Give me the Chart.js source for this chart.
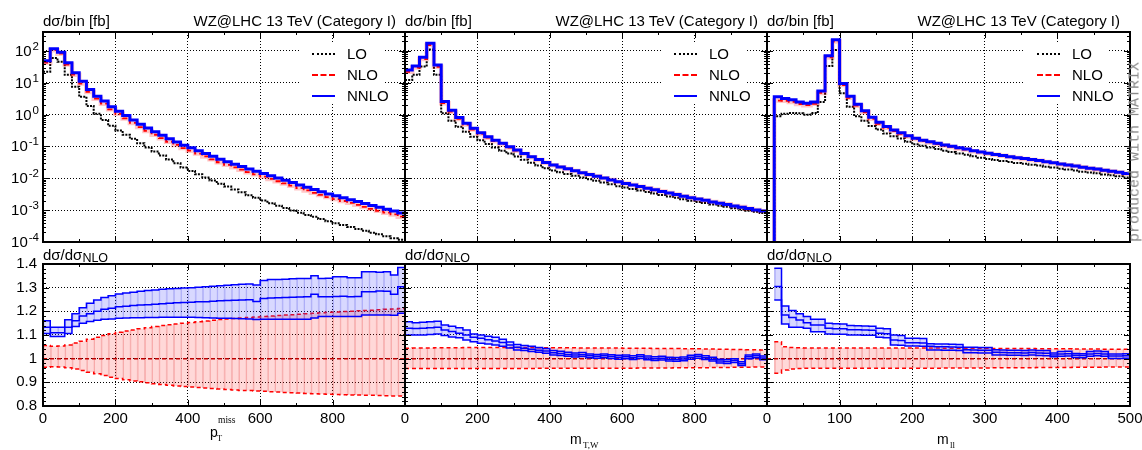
<!DOCTYPE html>
<html>
<head>
<meta charset="utf-8">
<script src="https://cdn.jsdelivr.net/npm/chart.js@4.4.0/dist/chart.umd.min.js"></script>
<style>
  body { margin: 0; background: #fff; }
  #page { position: relative; width: 1142px; height: 450px; overflow: hidden; font-family: "Liberation Sans", Arial, sans-serif; color: #000; }
  #page canvas { position: absolute; z-index: 1; }
  .txt { position: absolute; z-index: 3; font-size: 15px; line-height: 15px; white-space: nowrap; }
  .txt sub { font-size: 12.5px; vertical-align: -2px; line-height: 0; }
  .xl { position: absolute; z-index: 3; font-size: 14px; line-height: 14px; white-space: nowrap; }
  .xs { position: absolute; z-index: 3; font-family: "Liberation Serif", serif; line-height: 1; white-space: nowrap; }
  .key { position: absolute; z-index: 2; background: #fff; }
  .smp { position: absolute; z-index: 3; width: 23px; height: 0; }
  .klab { position: absolute; z-index: 3; font-size: 15px; line-height: 15px; }
  #matrix { position: absolute; z-index: 3; left: 1135px; top: 152px; transform: translate(-50%, -50%) rotate(-90deg);
            font: 15px "Liberation Mono", monospace; color: #8a8a8a; white-space: nowrap; }
</style>
</head>
<body>
<div id="page">
  <div class="txt" style="left:43px;top:13px">dσ/bin [fb]</div>
  <div class="txt" style="right:746px;top:13px">WZ@LHC 13 TeV (Category I)</div>
  <div class="txt" style="left:405px;top:13px">dσ/bin [fb]</div>
  <div class="txt" style="right:384px;top:13px">WZ@LHC 13 TeV (Category I)</div>
  <div class="txt" style="left:767px;top:13px">dσ/bin [fb]</div>
  <div class="txt" style="right:22px;top:13px">WZ@LHC 13 TeV (Category I)</div>

  <div class="txt" style="left:43px;top:246.5px">dσ/dσ<sub>NLO</sub></div>
  <div class="txt" style="left:405px;top:246.5px">dσ/dσ<sub>NLO</sub></div>
  <div class="txt" style="left:767px;top:246.5px">dσ/dσ<sub>NLO</sub></div>

  <div class="xl" style="left:210px;top:425px">p</div>
  <div class="xs" style="left:218px;top:416px;font-size:9.5px">miss</div>
  <div class="xs" style="left:217px;top:434px;font-size:8.5px">T</div>
  <div class="xl" style="left:570px;top:432px">m</div>
  <div class="xs" style="left:583px;top:441px;font-size:9px">T,W</div>
  <div class="xl" style="left:937px;top:432px">m</div>
  <div class="xs" style="left:950px;top:441px;font-size:9px">ll</div>

  <div id="matrix">produced with MATRIX</div>
</div>
<script>
// bin edges (GeV)
const ptEdges = Array.from({ length: 51 }, (_, i) => i * 20);
const mtEdges = Array.from({ length: 51 }, (_, i) => i * 20);
const mllEdges = Array.from({ length: 51 }, (_, i) => i * 10);

// tick labels
const ptTicks = [0, 200, 400, 600, 800, 1000];
const mtTicks = [0, 200, 400, 600, 800, 1000];
const mllTicks = [0, 100, 200, 300, 400, 500];
const logTicks = [1e-4, 1e-3, 1e-2, 1e-1, 1, 10, 100];
const ratioTicks = [0.8, 0.9, 1.0, 1.1, 1.2, 1.3, 1.4];
const seriesNames = ['LO', 'NLO', 'NNLO'];

// ---- p_T^miss ----
const ptLo = [22.4, 60.3, 45.7, 17.8, 7.59, 3.63, 1.86, 1.07, 0.676, 0.447,
  0.316, 0.234, 0.174, 0.126, 0.0933, 0.0692, 0.0525, 0.0389, 0.0295, 0.0219,
  0.0170, 0.0135, 0.0107, 0.00851, 0.00676, 0.00550, 0.00447, 0.00363, 0.00295, 0.00245,
  0.00200, 0.00166, 0.00138, 0.00117, 0.000977, 0.000832, 0.000708, 0.000617, 0.000525, 0.000447,
  0.000389, 0.000339, 0.000295, 0.000257, 0.000224, 0.000195, 0.000174, 0.000151, 0.000132, 0.000117];
const ptNlo = [43.2, 105.9, 82.2, 37.7, 18.0, 9.49, 5.18, 3.17, 2.22, 1.47,
  1.06, 0.763, 0.552, 0.408, 0.309, 0.234, 0.182, 0.141, 0.112, 0.0889,
  0.0737, 0.0598, 0.0486, 0.0394, 0.0320, 0.0266, 0.0221, 0.01875, 0.01561, 0.01337,
  0.01124, 0.00955, 0.00811, 0.00692, 0.00588, 0.00489, 0.00416, 0.00351, 0.00301, 0.00257,
  0.00223, 0.00194, 0.00170, 0.00147, 0.00126, 0.00110, 0.000956, 0.000833, 0.000733, 0.000623];
const ptNnlo = [49, 117.5, 91.2, 42.7, 20.9, 11.2, 6.17, 3.80, 2.69, 1.78,
  1.29, 0.933, 0.676, 0.501, 0.380, 0.288, 0.224, 0.174, 0.138, 0.110,
  0.0912, 0.0741, 0.0603, 0.0490, 0.0398, 0.0331, 0.0275, 0.0234, 0.0195, 0.0166,
  0.0141, 0.0120, 0.0102, 0.00871, 0.00741, 0.00617, 0.00525, 0.00447, 0.00380, 0.00324,
  0.00282, 0.00245, 0.00214, 0.00186, 0.00162, 0.00141, 0.00123, 0.00107, 0.000933, 0.000813];
const ptNloUp = [1.056, 1.052, 1.053, 1.058, 1.066, 1.074, 1.082, 1.090, 1.098, 1.105,
  1.112, 1.117, 1.121, 1.126, 1.131, 1.136, 1.140, 1.143, 1.147, 1.150,
  1.153, 1.156, 1.159, 1.162, 1.165, 1.168, 1.170, 1.172, 1.174, 1.176,
  1.178, 1.180, 1.182, 1.184, 1.186, 1.188, 1.190, 1.192, 1.194, 1.196,
  1.197, 1.199, 1.200, 1.202, 1.204, 1.205, 1.207, 1.209, 1.210, 1.212];
const ptNloDown = [0.964, 0.966, 0.965, 0.962, 0.956, 0.950, 0.943, 0.936, 0.929, 0.922,
  0.916, 0.911, 0.906, 0.902, 0.898, 0.894, 0.891, 0.888, 0.885, 0.882,
  0.880, 0.878, 0.876, 0.874, 0.872, 0.870, 0.868, 0.866, 0.865, 0.863,
  0.862, 0.860, 0.859, 0.857, 0.856, 0.855, 0.853, 0.852, 0.851, 0.850,
  0.849, 0.848, 0.847, 0.846, 0.845, 0.845, 0.844, 0.843, 0.842, 0.842];
const ptRatio = [1.133, 1.110, 1.110, 1.133, 1.160, 1.180, 1.190, 1.200, 1.209, 1.213,
  1.219, 1.222, 1.225, 1.227, 1.228, 1.230, 1.232, 1.234, 1.236, 1.237,
  1.238, 1.240, 1.241, 1.243, 1.245, 1.246, 1.247, 1.248, 1.249, 1.242,
  1.254, 1.256, 1.257, 1.258, 1.260, 1.261, 1.262, 1.272, 1.262, 1.262,
  1.263, 1.264, 1.262, 1.263, 1.283, 1.283, 1.286, 1.285, 1.272, 1.304];
const ptRatioUp = [1.160, 1.133, 1.133, 1.164, 1.190, 1.215, 1.234, 1.248, 1.258, 1.266,
  1.273, 1.277, 1.281, 1.285, 1.288, 1.290, 1.293, 1.295, 1.297, 1.299,
  1.300, 1.302, 1.304, 1.306, 1.308, 1.310, 1.312, 1.314, 1.316, 1.311,
  1.330, 1.335, 1.335, 1.336, 1.338, 1.339, 1.339, 1.350, 1.339, 1.340,
  1.346, 1.346, 1.342, 1.342, 1.367, 1.367, 1.365, 1.367, 1.353, 1.385];
const ptRatioDown = [1.106, 1.094, 1.094, 1.106, 1.136, 1.150, 1.157, 1.162, 1.167, 1.168,
  1.171, 1.172, 1.173, 1.173, 1.174, 1.174, 1.175, 1.175, 1.175, 1.175,
  1.175, 1.174, 1.173, 1.172, 1.171, 1.171, 1.170, 1.169, 1.168, 1.165,
  1.167, 1.167, 1.167, 1.167, 1.167, 1.167, 1.167, 1.172, 1.178, 1.178,
  1.178, 1.178, 1.178, 1.178, 1.185, 1.185, 1.185, 1.185, 1.183, 1.192];

// ---- m_T,W ----
const mtLo = [12.3, 17.8, 32.4, 112, 17.8, 1.10, 0.646, 0.417, 0.288, 0.204,
  0.158, 0.120, 0.0933, 0.0741, 0.0603, 0.0485, 0.0382, 0.0308, 0.0254, 0.0209,
  0.0176, 0.0155, 0.0136, 0.0120, 0.0106, 0.00931, 0.00838, 0.00736, 0.00647, 0.00569,
  0.00512, 0.00460, 0.00414, 0.00372, 0.00335, 0.00301, 0.00271, 0.00244, 0.00219, 0.00197,
  0.00182, 0.00167, 0.00150, 0.00138, 0.00127, 0.00114, 0.00105, 0.000964, 0.000885, 0.000813];
const mtNlo = [22.3, 30.1, 55.9, 154, 32.0, 2.29, 1.24, 0.734, 0.488, 0.341,
  0.248, 0.189, 0.147, 0.118, 0.0923, 0.0740, 0.0578, 0.0461, 0.0375, 0.0306,
  0.0257, 0.0224, 0.0196, 0.0171, 0.0148, 0.0130, 0.0116, 0.0101, 0.00883, 0.00771,
  0.00687, 0.00615, 0.00545, 0.00489, 0.00437, 0.00388, 0.00348, 0.00310, 0.00275, 0.00244,
  0.00222, 0.00203, 0.00182, 0.00168, 0.00153, 0.00136, 0.00126, 0.00111, 0.00101, 0.000930];
const mtNnlo = [25.1, 33.9, 63.1, 174, 36.3, 2.57, 1.38, 0.813, 0.537, 0.372,
  0.269, 0.204, 0.158, 0.126, 0.0977, 0.0776, 0.0603, 0.0479, 0.0389, 0.0316,
  0.0263, 0.0229, 0.0200, 0.0174, 0.0151, 0.0132, 0.0117, 0.0102, 0.00891, 0.00776,
  0.00692, 0.00617, 0.00550, 0.00490, 0.00437, 0.00389, 0.00347, 0.00309, 0.00275, 0.00245,
  0.00224, 0.00204, 0.00182, 0.00166, 0.00151, 0.00135, 0.00123, 0.00112, 0.00102, 0.000933];
const mtNloUp = [1.044, 1.045, 1.045, 1.045, 1.046, 1.046, 1.046, 1.046, 1.047, 1.047,
  1.047, 1.047, 1.047, 1.047, 1.047, 1.047, 1.047, 1.047, 1.046, 1.046,
  1.046, 1.046, 1.046, 1.046, 1.045, 1.045, 1.045, 1.045, 1.045, 1.045,
  1.044, 1.044, 1.044, 1.044, 1.043, 1.043, 1.043, 1.043, 1.042, 1.042,
  1.042, 1.041, 1.041, 1.040, 1.040, 1.039, 1.039, 1.038, 1.038, 1.037];
const mtNloDown = [0.958, 0.958, 0.958, 0.958, 0.958, 0.958, 0.958, 0.958, 0.958, 0.958,
  0.958, 0.958, 0.958, 0.958, 0.958, 0.958, 0.958, 0.958, 0.959, 0.959,
  0.959, 0.959, 0.959, 0.959, 0.959, 0.960, 0.960, 0.960, 0.960, 0.960,
  0.960, 0.960, 0.961, 0.961, 0.961, 0.961, 0.961, 0.962, 0.962, 0.962,
  0.962, 0.962, 0.963, 0.963, 0.963, 0.964, 0.964, 0.964, 0.965, 0.965];
const mtRatio = [1.128, 1.127, 1.128, 1.131, 1.133, 1.121, 1.115, 1.107, 1.100, 1.090,
  1.086, 1.080, 1.075, 1.068, 1.058, 1.048, 1.044, 1.040, 1.036, 1.032,
  1.025, 1.022, 1.018, 1.015, 1.017, 1.012, 1.010, 1.012, 1.009, 1.006,
  1.008, 1.004, 1.009, 1.003, 1.000, 1.002, 0.998, 0.997, 0.999, 1.006,
  1.010, 1.004, 0.998, 0.990, 0.988, 0.992, 0.979, 1.008, 1.012, 1.003];
const mtRatioUp = [1.156, 1.152, 1.154, 1.156, 1.158, 1.142, 1.137, 1.131, 1.121, 1.104,
  1.100, 1.095, 1.090, 1.082, 1.070, 1.060, 1.056, 1.052, 1.047, 1.043,
  1.035, 1.031, 1.027, 1.024, 1.026, 1.020, 1.018, 1.020, 1.017, 1.014,
  1.016, 1.012, 1.017, 1.011, 1.008, 1.010, 1.006, 1.005, 1.007, 1.014,
  1.018, 1.012, 1.006, 0.998, 0.996, 1.000, 0.987, 1.016, 1.020, 1.011];
const mtRatioDown = [1.100, 1.100, 1.100, 1.102, 1.104, 1.098, 1.092, 1.088, 1.079, 1.072,
  1.065, 1.062, 1.058, 1.052, 1.045, 1.037, 1.034, 1.030, 1.027, 1.023,
  1.016, 1.013, 1.010, 1.007, 1.009, 1.004, 1.002, 1.004, 1.001, 0.998,
  1.000, 0.996, 1.001, 0.995, 0.992, 0.994, 0.990, 0.989, 0.991, 0.998,
  1.002, 0.996, 0.990, 0.982, 0.980, 0.984, 0.971, 1.000, 1.004, 0.995];

// ---- m_ll (first bin empty) ----
const mllLo = [0, 0.891, 1.07, 1.12, 1.10, 1.00, 1.12, 2.51, 33.9, 107,
  4.68, 1.78, 0.891, 0.646, 0.437, 0.339, 0.257, 0.209, 0.178, 0.141,
  0.117, 0.105, 0.0933, 0.0832, 0.0741, 0.0676, 0.0603, 0.0550, 0.0490, 0.0447,
  0.0407, 0.0374, 0.0352, 0.0323, 0.0303, 0.0285, 0.0268, 0.0252, 0.0231, 0.0217,
  0.0200, 0.0188, 0.0177, 0.0162, 0.0152, 0.0144, 0.0132, 0.0124, 0.0117, 0.0107];
const mllNlo = [0, 2.78, 2.73, 2.51, 2.16, 1.99, 2.20, 4.82, 62.8, 199,
  8.48, 3.39, 1.91, 1.18, 0.743, 0.519, 0.386, 0.307, 0.250, 0.205,
  0.171, 0.148, 0.134, 0.120, 0.107, 0.0972, 0.0870, 0.0802, 0.0715, 0.0653,
  0.0596, 0.0547, 0.0512, 0.0467, 0.0436, 0.0407, 0.0379, 0.0354, 0.0324, 0.0304,
  0.0276, 0.0258, 0.0242, 0.0221, 0.0205, 0.0191, 0.0175, 0.0164, 0.0153, 0.0139];
const mllNnlo = [0, 3.63, 3.24, 2.95, 2.51, 2.29, 2.51, 5.50, 70.8, 224,
  9.55, 3.80, 2.14, 1.32, 0.832, 0.575, 0.427, 0.331, 0.269, 0.219,
  0.182, 0.158, 0.141, 0.126, 0.112, 0.102, 0.0912, 0.0832, 0.0741, 0.0676,
  0.0617, 0.0562, 0.0525, 0.0479, 0.0447, 0.0417, 0.0389, 0.0363, 0.0331, 0.0309,
  0.0282, 0.0263, 0.0245, 0.0224, 0.0209, 0.0195, 0.0178, 0.0166, 0.0155, 0.0141];
const mllNloUp = [null, 1.072, 1.050, 1.047, 1.046, 1.045, 1.045, 1.045, 1.045, 1.045,
  1.045, 1.045, 1.045, 1.045, 1.045, 1.045, 1.045, 1.045, 1.045, 1.045,
  1.045, 1.045, 1.045, 1.045, 1.044, 1.044, 1.044, 1.044, 1.044, 1.044,
  1.044, 1.043, 1.043, 1.043, 1.043, 1.043, 1.043, 1.042, 1.042, 1.042,
  1.042, 1.042, 1.041, 1.041, 1.041, 1.041, 1.040, 1.040, 1.040, 1.040];
const mllNloDown = [null, 0.938, 0.952, 0.956, 0.958, 0.959, 0.959, 0.959, 0.959, 0.959,
  0.960, 0.960, 0.960, 0.960, 0.960, 0.960, 0.960, 0.960, 0.960, 0.960,
  0.960, 0.960, 0.960, 0.960, 0.961, 0.961, 0.961, 0.961, 0.961, 0.961,
  0.961, 0.962, 0.962, 0.962, 0.962, 0.962, 0.962, 0.963, 0.963, 0.963,
  0.963, 0.963, 0.964, 0.964, 0.964, 0.964, 0.965, 0.965, 0.965, 0.965];
const mllRatio = [null, 1.305, 1.185, 1.174, 1.163, 1.152, 1.142, 1.142, 1.128, 1.126,
  1.126, 1.122, 1.122, 1.121, 1.120, 1.107, 1.105, 1.079, 1.077, 1.067,
  1.067, 1.066, 1.052, 1.050, 1.050, 1.049, 1.048, 1.038, 1.037, 1.036,
  1.036, 1.027, 1.026, 1.025, 1.025, 1.024, 1.026, 1.024, 1.023, 1.016,
  1.020, 1.021, 1.014, 1.013, 1.020, 1.022, 1.020, 1.011, 1.011, 1.012];
const mllRatioUp = [null, 1.382, 1.223, 1.203, 1.190, 1.178, 1.167, 1.167, 1.150, 1.148,
  1.147, 1.140, 1.139, 1.138, 1.137, 1.128, 1.126, 1.100, 1.098, 1.086,
  1.086, 1.085, 1.063, 1.062, 1.062, 1.061, 1.060, 1.048, 1.048, 1.047,
  1.047, 1.038, 1.037, 1.036, 1.036, 1.035, 1.037, 1.035, 1.034, 1.024,
  1.030, 1.031, 1.022, 1.021, 1.030, 1.032, 1.030, 1.020, 1.020, 1.021];
const mllRatioDown = [null, 1.248, 1.147, 1.133, 1.133, 1.128, 1.114, 1.114, 1.104, 1.103,
  1.103, 1.100, 1.100, 1.099, 1.099, 1.090, 1.088, 1.058, 1.057, 1.053,
  1.053, 1.052, 1.037, 1.037, 1.036, 1.036, 1.035, 1.025, 1.025, 1.024,
  1.024, 1.015, 1.015, 1.014, 1.014, 1.013, 1.015, 1.013, 1.012, 1.008,
  1.010, 1.011, 1.005, 1.004, 1.010, 1.012, 1.010, 1.001, 1.001, 1.002];

const panels = [
  { edges: ptEdges, xTicks: ptTicks, xMinor: 100, lastLabel: false,
    lo: ptLo, nlo: ptNlo, nnlo: ptNnlo, nloUp: ptNloUp, nloDown: ptNloDown,
    ratio: ptRatio, ratioUp: ptRatioUp, ratioDown: ptRatioDown },
  { edges: mtEdges, xTicks: mtTicks, xMinor: 100, lastLabel: false,
    lo: mtLo, nlo: mtNlo, nnlo: mtNnlo, nloUp: mtNloUp, nloDown: mtNloDown,
    ratio: mtRatio, ratioUp: mtRatioUp, ratioDown: mtRatioDown },
  { edges: mllEdges, xTicks: mllTicks, xMinor: 50, lastLabel: true,
    lo: mllLo, nlo: mllNlo, nnlo: mllNnlo, nloUp: mllNloUp, nloDown: mllNloDown,
    ratio: mllRatio, ratioUp: mllRatioUp, ratioDown: mllRatioDown }
];

// plot-area geometry in page pixels
const cols = [{ x: 43, w: 362 }, { x: 405, w: 362 }, { x: 767, w: 363 }];
const topMin = 1e-4, topMax = 395;
const font = { family: '"Liberation Sans", Arial, sans-serif', size: 15 };

function stepPts(edges, vals, floor) {
  const pts = vals.map((v, i) => ({ x: edges[i], y: v === null ? null : (floor ? Math.max(v, floor) : v) }));
  pts.push({ x: edges[edges.length - 1], y: pts[pts.length - 1].y });
  return pts;
}

function line(data, color, width, dash, order) {
  return { type: 'line', data, borderColor: color, borderWidth: width, borderDash: dash,
           stepped: true, pointRadius: 0, fill: false, order, borderCapStyle: 'butt' };
}

function band(edges, lo, hi, fillColor, edgeColor, order) {
  const data = [];
  lo.forEach((v, i) => {
    if (v !== null) data.push({ x: (edges[i] + edges[i + 1]) / 2, y: [v, hi[i]] });
  });
  return { type: 'bar', data, backgroundColor: fillColor, borderColor: edgeColor,
           borderWidth: { left: 1, right: 0, top: 0, bottom: 0 }, borderSkipped: false,
           barPercentage: 1, categoryPercentage: 1, grouped: false, order };
}

function fixSize(size) {
  return s => {
    if (s.isHorizontal()) s.height = size; else s.width = size;
    s.paddingLeft = s.paddingRight = s.paddingTop = s.paddingBottom = 0;
  };
}

const gridOpts = { color: '#000', lineWidth: 1, drawTicks: false, offset: false };
const borderOpts = { display: false, dash: [1, 2] };

// frame, inward ticks and the 10^n labels
const framePlugin = {
  id: 'frame',
  afterDraw(chart, args, opts) {
    const { ctx, chartArea: a, scales: { x, y } } = chart;
    ctx.save();
    ctx.strokeStyle = '#000';
    ctx.lineWidth = 1;
    ctx.beginPath();
    const tickX = (v, len) => {
      const p = Math.round(x.getPixelForValue(v)) + 0.5;
      ctx.moveTo(p, a.bottom); ctx.lineTo(p, a.bottom - len);
      ctx.moveTo(p, a.top); ctx.lineTo(p, a.top + len);
    };
    const tickY = (v, len) => {
      const p = Math.round(y.getPixelForValue(v)) + 0.5;
      ctx.moveTo(a.left, p); ctx.lineTo(a.left + len, p);
      ctx.moveTo(a.right, p); ctx.lineTo(a.right - len, p);
    };
    for (let v = x.min; v <= x.max; v += opts.xMinor) tickX(v, opts.xTicks.includes(v) ? 6 : 3);
    if (opts.log) {
      for (let d = -4; d <= 2; d++) {
        for (let k = 1; k <= 9; k++) {
          const v = k * Math.pow(10, d);
          if (v <= y.max) tickY(v, k === 1 ? 6 : 3);
        }
      }
    } else {
      for (let i = 0; i <= 30; i++) tickY(0.8 + i * 0.02, i % 5 === 0 ? 6 : 3);
    }
    ctx.stroke();
    ctx.lineWidth = 2;
    ctx.strokeRect(a.left, a.top, a.right - a.left, a.bottom - a.top);

    if (opts.logLabels) {
      ctx.fillStyle = '#000';
      ctx.textAlign = 'right';
      ctx.textBaseline = 'alphabetic';
      logTicks.forEach(v => {
        const p = y.getPixelForValue(v);
        const exp = String(Math.round(Math.log10(v)));
        ctx.font = '11.5px "Liberation Sans", Arial, sans-serif';
        const ew = ctx.measureText(exp).width;
        ctx.fillText(exp, a.left - 4, p - 1);
        ctx.font = '15px "Liberation Sans", Arial, sans-serif';
        ctx.fillText('10', a.left - 5 - ew, p + 5);
      });
    }
    ctx.restore();
  }
};

function addCanvas(left, top, w, h) {
  const cv = document.createElement('canvas');
  cv.width = w; cv.height = h;
  cv.style.left = left + 'px'; cv.style.top = top + 'px';
  cv.style.width = w + 'px'; cv.style.height = h + 'px';
  document.getElementById('page').appendChild(cv);
  return cv;
}

function xScale(p, labels) {
  const xMax = p.edges[p.edges.length - 1];
  return {
    type: 'linear', min: p.edges[0], max: xMax, offset: false,
    grid: gridOpts, border: borderOpts,
    ticks: {
      display: labels, font, color: '#000', padding: 4, autoSkip: false, maxRotation: 0,
      callback: v => (!p.lastLabel && v === xMax) ? '' : String(v)
    },
    afterBuildTicks: s => { s.ticks = p.xTicks.map(v => ({ value: v })); },
    afterFit: fixSize(labels ? 44 : 8)
  };
}

const padR = 12;

panels.forEach((p, i) => {
  const c = cols[i];
  const floor = topMin / 1000;

  // upper plot: absolute distributions
  new Chart(addCanvas(c.x - 43, 0, 43 + c.w + padR, 250), {
    type: 'line',
    data: {
      datasets: [
        line(stepPts(p.edges, p.nnlo, floor), '#0000ff', 3, [], 0),
        line(stepPts(p.edges, p.nlo, floor), '#ff0000', 1.8, [5, 3], 1),
        line(stepPts(p.edges, p.nlo, floor), 'rgba(255,0,0,0.22)', 4.5, [], 2),
        line(stepPts(p.edges, p.lo, floor), '#000000', 2, [2, 1.2], 3)
      ]
    },
    options: {
      responsive: false, animation: false, devicePixelRatio: 1, events: [],
      layout: { padding: { left: 0, top: 32, right: padR, bottom: 0 } },
      plugins: {
        legend: { display: false }, tooltip: { enabled: false },
        frame: { xTicks: p.xTicks, xMinor: p.xMinor, log: true, logLabels: i === 0 }
      },
      scales: {
        x: xScale(p, false),
        y: {
          type: 'logarithmic', min: topMin, max: topMax,
          grid: gridOpts, border: borderOpts, ticks: { display: false },
          afterBuildTicks: s => { s.ticks = logTicks.map(v => ({ value: v })); },
          afterFit: fixSize(43)
        }
      }
    },
    plugins: [framePlugin]
  });

  // lower plot: ratio to NLO
  const e = p.edges;
  const ref = [{ x: e[0], y: 1 }, { x: e[e.length - 1], y: 1 }];
  new Chart(addCanvas(c.x - 43, 250, 43 + c.w + padR, 200), {
    type: 'line',
    data: {
      datasets: [
        line(stepPts(e, p.ratio), '#0000ff', 1.5, [], 0),
        line(stepPts(e, p.ratioUp), '#0000ff', 1.5, [], 1),
        line(stepPts(e, p.ratioDown), '#0000ff', 1.5, [], 2),
        band(e, p.ratioDown, p.ratioUp, 'rgba(60,60,255,0.2)', 'rgba(70,70,230,0.35)', 3),
        { ...line(ref, '#c00000', 1.5, [4, 3], 4), stepped: false },
        line(stepPts(e, p.nloUp), '#ff0000', 1.5, [4, 3], 5),
        line(stepPts(e, p.nloDown), '#ff0000', 1.5, [4, 3], 6),
        band(e, p.nloDown, p.nloUp, 'rgba(255,40,40,0.18)', 'rgba(230,60,60,0.35)', 7)
      ]
    },
    options: {
      responsive: false, animation: false, devicePixelRatio: 1, events: [],
      layout: { padding: { left: 0, top: 14, right: padR, bottom: 0 } },
      plugins: {
        legend: { display: false }, tooltip: { enabled: false },
        frame: { xTicks: p.xTicks, xMinor: p.xMinor, log: false, logLabels: false }
      },
      scales: {
        x: xScale(p, true),
        y: {
          type: 'linear', min: 0.8, max: 1.4, beginAtZero: false,
          grid: gridOpts, border: borderOpts,
          ticks: { display: i === 0, font, color: '#000', padding: 6,
                   callback: v => String(+v.toFixed(1)) },
          afterBuildTicks: s => { s.ticks = ratioTicks.map(v => ({ value: v })); },
          afterFit: fixSize(43)
        }
      }
    },
    plugins: [framePlugin]
  });

  // key in the upper-right corner
  const page = document.getElementById('page');
  const r = c.x + c.w;
  const box = document.createElement('div');
  box.className = 'key';
  Object.assign(box.style, { left: (r - 105) + 'px', top: '43px', width: '84px', height: '61px' });
  page.appendChild(box);
  const styles = ['2px dotted #000', '2px dashed #ff0000', '2px solid #0000ff'];
  seriesNames.forEach((name, k) => {
    const yc = 54 + k * 21;
    const s = document.createElement('div');
    s.className = 'smp';
    Object.assign(s.style, { left: (r - 93) + 'px', top: (yc - 1) + 'px', borderTop: styles[k] });
    page.appendChild(s);
    const t = document.createElement('div');
    t.className = 'klab';
    t.textContent = name;
    Object.assign(t.style, { left: (r - 58) + 'px', top: (yc - 8) + 'px' });
    page.appendChild(t);
  });
});
</script>
</body>
</html>
